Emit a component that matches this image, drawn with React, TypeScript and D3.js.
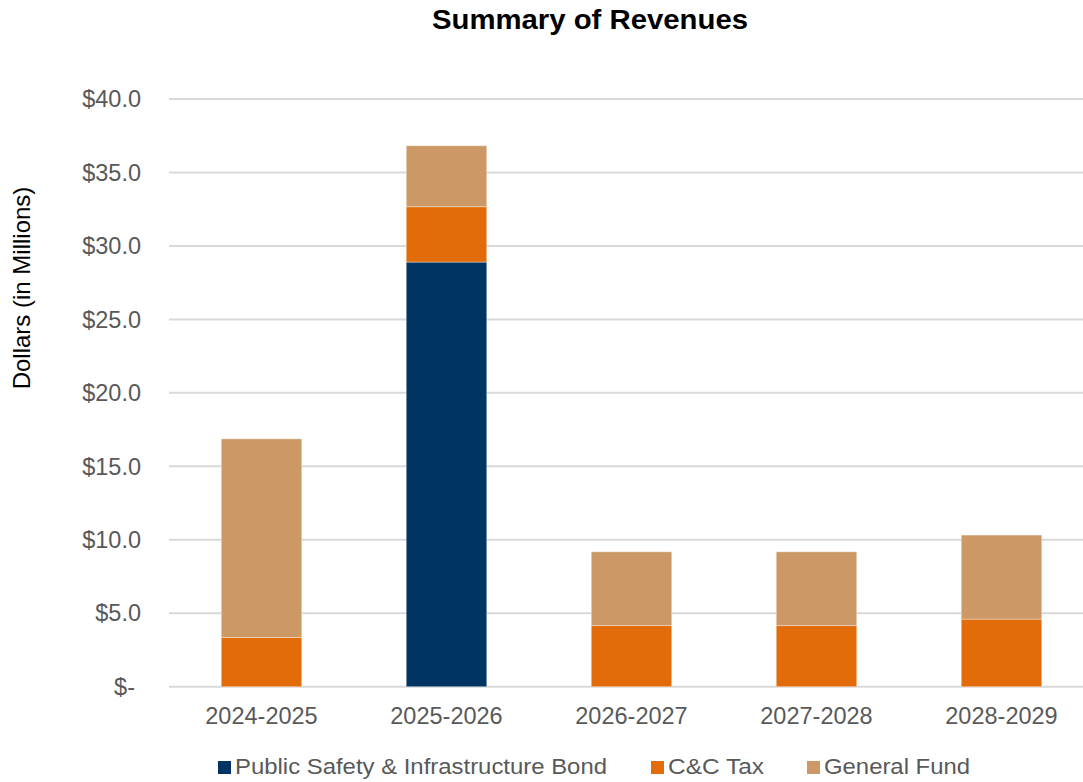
import * as d3 from "d3";

const years = ["2024-2025", "2025-2026", "2026-2027", "2027-2028", "2028-2029"];
const bond = [0, 28.9, 0, 0, 0];
const ccTax = [3.35, 3.77, 4.16, 4.16, 4.6];
const generalFund = [13.52, 4.15, 5.02, 5.02, 5.72];
const seriesNames = ["Public Safety & Infrastructure Bond", "C&C Tax", "General Fund"];
const colors = ["#003462", "#E36C0A", "#CC9966"];
const yTicks = [0, 5, 10, 15, 20, 25, 30, 35, 40];

const W = 1083;
const H = 782;
const font = "'Liberation Sans', Arial, sans-serif";

export default function App() {
  // plot area runs a little past the right edge of the picture, as in the original
  const x = d3.scaleBand<string>().domain(years).range([169, 1094]).paddingInner(0.565).paddingOuter(0.2825);
  const y = d3.scaleLinear().domain([0, 40]).range([686.7, 99]);

  const rows = years.map((yr, i) => ({ year: yr, s0: bond[i], s1: ccTax[i], s2: generalFund[i] }));
  const stacked = d3.stack<any>().keys(["s0", "s1", "s2"])(rows);

  // legend layout
  const legendX = [218, 651, 807];
  const legendLen = [372, 96, 146];

  return (
    <svg width={W} height={H} style={{ position: "absolute", left: 0, top: 0, background: "#fff" }} fontFamily={font}>
      <text x={590} y={29} textAnchor="middle" fontSize={27} fontWeight="bold" fill="#000" textLength={316} lengthAdjust="spacingAndGlyphs">
        Summary of Revenues
      </text>

      {yTicks.map((t) => (
        <g key={t}>
          <line x1={169} x2={1083} y1={y(t)} y2={y(t)} stroke="#d9d9d9" strokeWidth={2} />
          <text x={t === 0 ? 135 : 141} y={y(t)} dy="0.35em" textAnchor="end" fontSize={23.5} fill="#595959">
            {t === 0 ? "$-" : `$${t.toFixed(1)}`}
          </text>
        </g>
      ))}

      <text transform={`translate(30,288) rotate(-90)`} textAnchor="middle" fontSize={24} fill="#000">
        Dollars (in Millions)
      </text>

      {stacked.map((layer, si) => (
        <g key={si} fill={colors[si]}>
          {layer.map((d, i) =>
            d[1] - d[0] > 0 ? (
              <rect
                key={i}
                x={x(years[i])}
                y={y(d[1])}
                width={x.bandwidth()}
                height={y(d[0]) - y(d[1])}
                stroke="#fff"
                strokeOpacity={0.35}
                strokeWidth={1}
              />
            ) : null
          )}
        </g>
      ))}

      {years.map((yr) => (
        <text key={yr} x={(x(yr) ?? 0) + x.bandwidth() / 2} y={724} textAnchor="middle" fontSize={23.5} fill="#595959">
          {yr}
        </text>
      ))}

      {seriesNames.map((name, i) => (
        <g key={name}>
          <rect x={legendX[i]} y={761} width={13} height={13} fill={colors[i]} />
          <text x={legendX[i] + 17} y={773.5} fontSize={22} fill="#595959" textLength={legendLen[i]} lengthAdjust="spacingAndGlyphs">
            {name}
          </text>
        </g>
      ))}
    </svg>
  );
}
